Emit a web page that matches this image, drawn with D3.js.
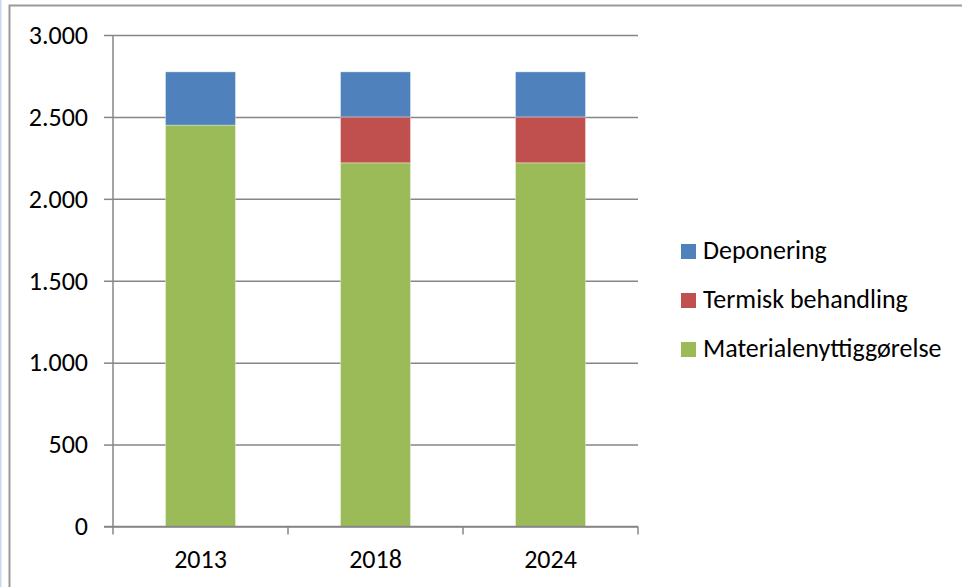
<!DOCTYPE html>
<html>
<head>
<meta charset="utf-8">
<script src="https://cdn.jsdelivr.net/npm/d3@7"></script>
<style>
  html, body { margin: 0; padding: 0; background: #fff; }
  svg { display: block; }
</style>
</head>
<body>
<div id="chart"></div>
<script>
// Stablet søylediagram: behandling av avfall per år
const years = ["2013", "2018", "2024"]
const seriesNames = ["Materialenyttiggørelse", "Termisk behandling", "Deponering"]
const materiale = [2450, 2220, 2220]
const termisk = [0, 280, 280]
const deponering = [325, 275, 275]
const yTicks = [0, 500, 1000, 1500, 2000, 2500, 3000]
const legendOrder = ["Deponering", "Termisk behandling", "Materialenyttiggørelse"]

const W = 962, H = 587
const margin = { top: 35, right: 324, bottom: 60.5, left: 113 }
const width = W - margin.left - margin.right
const height = H - margin.top - margin.bottom

const colors = {
  "Materialenyttiggørelse": "#9BBB59",
  "Termisk behandling": "#C0504D",
  "Deponering": "#4F81BD",
}
const grid = "#868686"
const font = "Carlito, 'Open Sans', sans-serif"
const fs = 26

const svg = d3.select("#chart").append("svg")
  .attr("width", W).attr("height", H)

// Ramme rundt diagrammet
svg.append("rect").attr("x", 0).attr("y", 0).attr("width", 1.5).attr("height", H).attr("fill", "#c6d9f1")
svg.append("rect")
  .attr("x", 9.5).attr("y", 5.5).attr("width", W + 20).attr("height", H + 20)
  .attr("fill", "none").attr("stroke", "#9a9a9a").attr("stroke-width", 2)

const g = svg.append("g").attr("transform", `translate(${margin.left},${margin.top})`)

const x = d3.scaleBand().domain(years).range([0, width]).paddingInner(0.6).paddingOuter(0.3)
const y = d3.scaleLinear().domain([0, 3000]).range([height, 0])

// Rutenett
g.append("g")
  .call(d3.axisLeft(y).tickValues(yTicks).tickSize(-width).tickFormat(""))
  .call((s) => s.select(".domain").remove())
  .call((s) => s.selectAll("line").attr("stroke", grid).attr("stroke-width", 1.5))

// Stabling
const rows = years.map((yr, i) => ({
  year: yr,
  "Materialenyttiggørelse": materiale[i],
  "Termisk behandling": termisk[i],
  "Deponering": deponering[i],
}))
const stacked = d3.stack().keys(seriesNames)(rows)

g.selectAll("g.layer")
  .data(stacked)
  .join("g")
  .attr("class", "layer")
  .attr("fill", (d) => colors[d.key])
  .selectAll("rect")
  .data((d) => d.filter((p) => p[1] - p[0] > 0))
  .join("rect")
  .attr("x", (d) => x(d.data.year))
  .attr("width", x.bandwidth())
  .attr("y", (d) => y(d[1]))
  .attr("height", (d) => y(d[0]) - y(d[1]))
  .attr("stroke", "rgba(255,255,255,0.35)")
  .attr("stroke-width", 1)

// Y-akse
const fmt = (v) => d3.format(",")(v).replace(/,/g, ".")
const yAxis = g.append("g")
  .call(d3.axisLeft(y).tickValues(yTicks).tickSize(9).tickPadding(16).tickFormat(fmt))
yAxis.selectAll("line, path").attr("stroke", grid).attr("stroke-width", 1.5)
yAxis.select(".domain").attr("d", `M0,${height}V0`)
yAxis.selectAll("text").attr("fill", "#000").attr("font-size", fs).attr("font-family", font)

// X-akse
const xAxis = g.append("g")
  .attr("transform", `translate(0,${height})`)
  .call(d3.axisBottom(x).tickSize(0).tickPadding(23))
xAxis.select(".domain").attr("stroke", grid).attr("stroke-width", 1.5).attr("d", `M-9,0H${width}`)
xAxis.selectAll("text").attr("fill", "#000").attr("font-size", fs).attr("font-family", font)
const step = x.step()
g.append("g").attr("transform", `translate(0,${height})`)
  .selectAll("line")
  .data(d3.range(years.length + 1))
  .join("line")
  .attr("x1", (i) => i * step).attr("x2", (i) => i * step)
  .attr("y1", 0).attr("y2", 8)
  .attr("stroke", grid).attr("stroke-width", 1.5)

// Tegnforklaring
const legend = svg.append("g").attr("transform", "translate(681,244)")
legendOrder.forEach((name, i) => {
  const row = legend.append("g").attr("transform", `translate(0,${i * 49})`)
  row.append("rect").attr("width", 15).attr("height", 15).attr("fill", colors[name])
  row.append("text").attr("x", 22).attr("y", 14.5)
    .attr("font-size", fs).attr("font-family", font).attr("fill", "#000")
    .text(name)
})
</script>
</body>
</html>
